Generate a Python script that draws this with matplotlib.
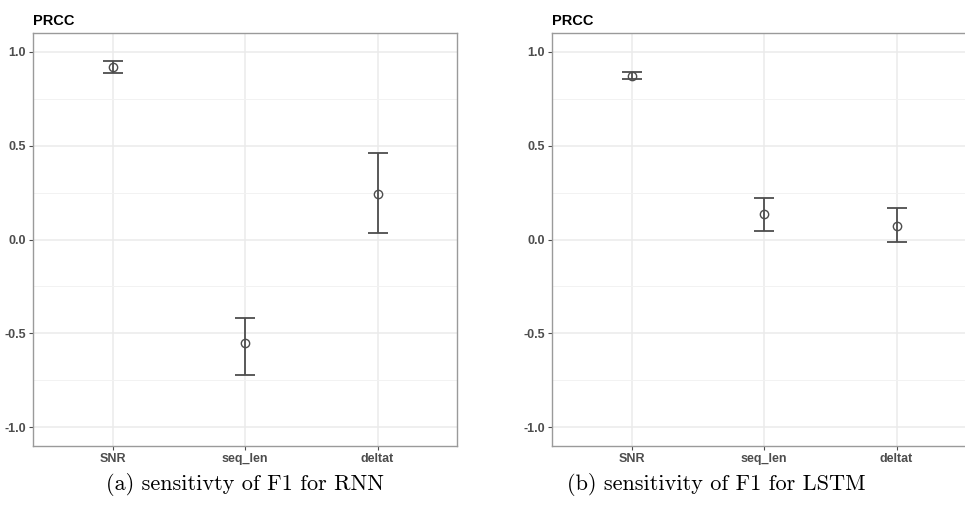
import matplotlib
matplotlib.use("Agg")
import matplotlib.pyplot as plt
import numpy as np
from matplotlib.ticker import MultipleLocator

categories = ["SNR", "seq_len", "deltat"]

rnn_est = [0.92, -0.553, 0.245]
rnn_low = [0.887, -0.723, 0.037]
rnn_high = [0.952, -0.42, 0.463]

lstm_est = [0.873, 0.137, 0.074]
lstm_low = [0.855, 0.043, -0.011]
lstm_high = [0.892, 0.223, 0.167]

captions = ["(a) sensitivty of F1 for RNN", "(b) sensitivity of F1 for LSTM"]
yticks = [-1.0, -0.5, 0.0, 0.5, 1.0]
ytick_labels = ["-1.0", "-0.5", "0.0", "0.5", "1.0"]

fig = plt.figure(figsize=(9.65, 5.05), dpi=100)
W, H = 965, 505

def make_ax(x0, x1, y0, y1):
    return fig.add_axes([x0 / W, 1 - y1 / H, (x1 - x0) / W, (y1 - y0) / H])

panels = [
    (make_ax(33, 457, 33, 446), rnn_est, rnn_low, rnn_high, captions[0], 245),
    (make_ax(552, 976, 33, 446), lstm_est, lstm_low, lstm_high, captions[1], 716),
]

for ax, est, lo, hi, cap, cx in panels:
    x = np.arange(1, len(categories) + 1)
    est = np.array(est); lo = np.array(lo); hi = np.array(hi)
    ax.set_xlim(0.4, 3.6)
    ax.set_ylim(-1.1, 1.1)
    ax.set_axisbelow(True)
    ax.yaxis.set_minor_locator(MultipleLocator(0.25))
    ax.grid(True, which="major", color="#ebebeb", linewidth=1.1)
    ax.grid(True, which="minor", axis="y", color="#f2f2f2", linewidth=0.7)
    ax.tick_params(which="minor", length=0)
    ax.errorbar(x, est, yerr=[est - lo, hi - est], fmt="none", ecolor="#4d4d4d",
                elinewidth=1.3, capsize=7.5, capthick=1.3, zorder=3)
    ax.plot(x, est, "o", mfc="none", mec="#4d4d4d", ms=6, mew=1.0, zorder=4)
    ax.set_xticks(x)
    ax.set_xticklabels(categories)
    ax.set_yticks(yticks)
    ax.set_yticklabels(ytick_labels)
    ax.tick_params(which="major", length=3, width=0.8, color="#4d4d4d",
                   labelcolor="#4d4d4d", labelsize=9, pad=2)
    for lab in ax.get_xticklabels() + ax.get_yticklabels():
        lab.set_fontfamily("Liberation Sans")
        lab.set_fontweight("bold")
    for sp in ax.spines.values():
        sp.set_color("#9a9a9a")
        sp.set_linewidth(1.0)
    ax.text(0, 1.012, "PRCC", transform=ax.transAxes, ha="left", va="bottom",
            fontsize=10.5, fontweight="bold", family="Liberation Sans", color="black")
    fig.text(cx / W, 1 - 484 / H, cap, ha="center", va="center",
             fontsize=16, family="cmr10")

fig.savefig("out.png", dpi=100)
